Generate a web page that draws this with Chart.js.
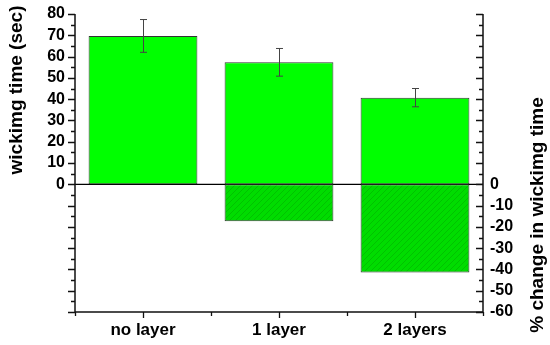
<!DOCTYPE html>
<html>
<head>
<meta charset="utf-8">
<script src="https://cdn.jsdelivr.net/npm/chart.js@4/dist/chart.umd.min.js"></script>
<style>
  html, body { margin: 0; padding: 0; background: #fff; }
  #wrap { width: 550px; height: 345px; }
</style>
</head>
<body>
<div id="wrap"><canvas id="grafikoa" width="550" height="345"></canvas></div>
<script>
const categories = ['no layer', '1 layer', '2 layers'];
const wickingTime = [69.7, 57.3, 40.7];
const wickingErr = [7.7, 6.5, 4.3];
const percentChange = [0, -17.4, -41.4];
const axisMin = -60;
const axisMax = 80;

const FONT = 'Liberation Sans, Arial, sans-serif';

// hatched fill for the negative (% change) bars
function makeHatch() {
  const c = document.createElement('canvas');
  c.width = 6; c.height = 6;
  const g = c.getContext('2d');
  g.fillStyle = '#00dc00';
  g.fillRect(0, 0, 6, 6);
  g.strokeStyle = '#00c200';
  g.lineWidth = 1;
  g.beginPath();
  g.moveTo(0, 6); g.lineTo(6, 0);
  g.moveTo(-3, 3); g.lineTo(3, -3);
  g.moveTo(3, 9); g.lineTo(9, 3);
  g.stroke();
  return g.createPattern(c, 'repeat');
}

const decor = {
  id: 'decor',
  beforeDatasetsDraw(chart) {
    const ctx = chart.ctx, a = chart.chartArea;
    const y0 = chart.scales.y.getPixelForValue(0);
    ctx.save();
    ctx.strokeStyle = '#000';
    ctx.lineWidth = 1.2;
    ctx.beginPath();
    ctx.moveTo(a.left, y0); ctx.lineTo(a.right, y0);
    ctx.stroke();
    ctx.restore();
  },
  afterDatasetsDraw(chart) {
    const ctx = chart.ctx, a = chart.chartArea;
    const x = chart.scales.x, y = chart.scales.y, y2 = chart.scales.y2;
    ctx.save();

    // error bars
    ctx.strokeStyle = '#444';
    ctx.lineWidth = 1;
    wickingTime.forEach((v, i) => {
      const cx = Math.round(x.getPixelForValue(i)) + 0.5;
      const top = y.getPixelForValue(v + wickingErr[i]);
      const bot = y.getPixelForValue(v - wickingErr[i]);
      ctx.beginPath();
      ctx.moveTo(cx, top); ctx.lineTo(cx, bot);
      ctx.moveTo(cx - 3.5, top); ctx.lineTo(cx + 3.5, top);
      ctx.moveTo(cx - 3.5, bot); ctx.lineTo(cx + 3.5, bot);
      ctx.stroke();
    });

    // axis lines
    ctx.strokeStyle = '#111';
    ctx.lineWidth = 1.5;
    ctx.beginPath();
    ctx.moveTo(a.left, a.top); ctx.lineTo(a.left, a.bottom);
    ctx.moveTo(a.right, a.top); ctx.lineTo(a.right, a.bottom);
    ctx.moveTo(a.left, a.bottom); ctx.lineTo(a.right, a.bottom);
    ctx.stroke();

    // y ticks: left outward, right inward, every 5 units
    ctx.lineWidth = 1.3;
    ctx.beginPath();
    for (let v = axisMin; v <= axisMax; v += 5) {
      const major = v % 10 === 0;
      const py = Math.round(y.getPixelForValue(v)) + 0.5;
      const len = major ? 7 : 4;
      ctx.moveTo(a.left - len, py); ctx.lineTo(a.left, py);
      const py2 = Math.round(y2.getPixelForValue(v)) + 0.5;
      ctx.moveTo(a.right - len, py2); ctx.lineTo(a.right, py2);
    }
    // x ticks: major at categories, minor between
    categories.forEach((c, i) => {
      const px = Math.round(x.getPixelForValue(i)) + 0.5;
      ctx.moveTo(px, a.bottom); ctx.lineTo(px, a.bottom + 6);
    });
    const edges = [a.left];
    for (let i = 0; i < categories.length - 1; i++) {
      edges.push((x.getPixelForValue(i) + x.getPixelForValue(i + 1)) / 2);
    }
    edges.push(a.right);
    edges.forEach(px => {
      ctx.moveTo(Math.round(px) + 0.5, a.bottom); ctx.lineTo(Math.round(px) + 0.5, a.bottom + 4);
    });
    ctx.stroke();

    // axis titles (both read bottom to top)
    ctx.fillStyle = '#000';
    ctx.font = 'bold 19px ' + FONT;
    ctx.textAlign = 'center';
    ctx.textBaseline = 'middle';
    ctx.save();
    ctx.translate(17, 90);
    ctx.rotate(-Math.PI / 2);
    ctx.fillText('wickimg time (sec)', 0, 0);
    ctx.restore();
    ctx.save();
    ctx.translate(538, 215);
    ctx.rotate(-Math.PI / 2);
    ctx.fillText('% change in wickimg time', 0, 0);
    ctx.restore();

    ctx.restore();
  }
};

const data = {
  labels: categories,
  datasets: [
    {
      label: 'wicking time',
      data: wickingTime,
      yAxisID: 'y',
      backgroundColor: '#00ff00',
      borderColor: '#333',
      borderWidth: 1,
      borderSkipped: false,
      grouped: false,
      barPercentage: 0.8,
      categoryPercentage: 1,
    },
    {
      label: '% change',
      data: percentChange,
      yAxisID: 'y2',
      backgroundColor: makeHatch(),
      borderColor: '#333',
      borderWidth: 1,
      borderSkipped: false,
      grouped: false,
      barPercentage: 0.8,
      categoryPercentage: 1,
    }
  ]
};

const tickFont = { family: FONT, size: 16, weight: 'bold' };

const config = {
  type: 'bar',
  data: data,
  plugins: [decor],
  options: {
    responsive: false,
    animation: false,
    layout: { padding: { top: 14, left: 0, right: 0, bottom: 0 } },
    plugins: {
      legend: { display: false },
      tooltip: { enabled: false }
    },
    scales: {
      x: {
        grid: { display: false, drawTicks: false },
        border: { display: false },
        ticks: { color: '#000', font: { family: FONT, size: 17, weight: 'bold' }, padding: 8 },
        afterFit(s) { s.height = 33; s.paddingLeft = 0; s.paddingRight = 0; }
      },
      y: {
        position: 'left',
        min: axisMin,
        max: axisMax,
        grid: { display: false, drawTicks: false },
        border: { display: false },
        ticks: {
          stepSize: 10,
          autoSkip: false,
          color: '#000',
          font: tickFont,
          padding: 10,
          callback: v => (v >= 0 ? v : '')
        },
        afterFit(s) { s.width = 75; s.paddingTop = 0; s.paddingBottom = 0; }
      },
      y2: {
        position: 'right',
        min: axisMin,
        max: axisMax,
        grid: { display: false, drawTicks: false },
        border: { display: false },
        ticks: {
          stepSize: 10,
          autoSkip: false,
          color: '#000',
          font: tickFont,
          padding: 7,
          callback: v => (v <= 0 ? v : '')
        },
        afterFit(s) { s.width = 67; s.paddingTop = 0; s.paddingBottom = 0; }
      }
    }
  }
};

const ctx = document.getElementById('grafikoa').getContext('2d');
new Chart(ctx, config);
</script>
</body>
</html>
